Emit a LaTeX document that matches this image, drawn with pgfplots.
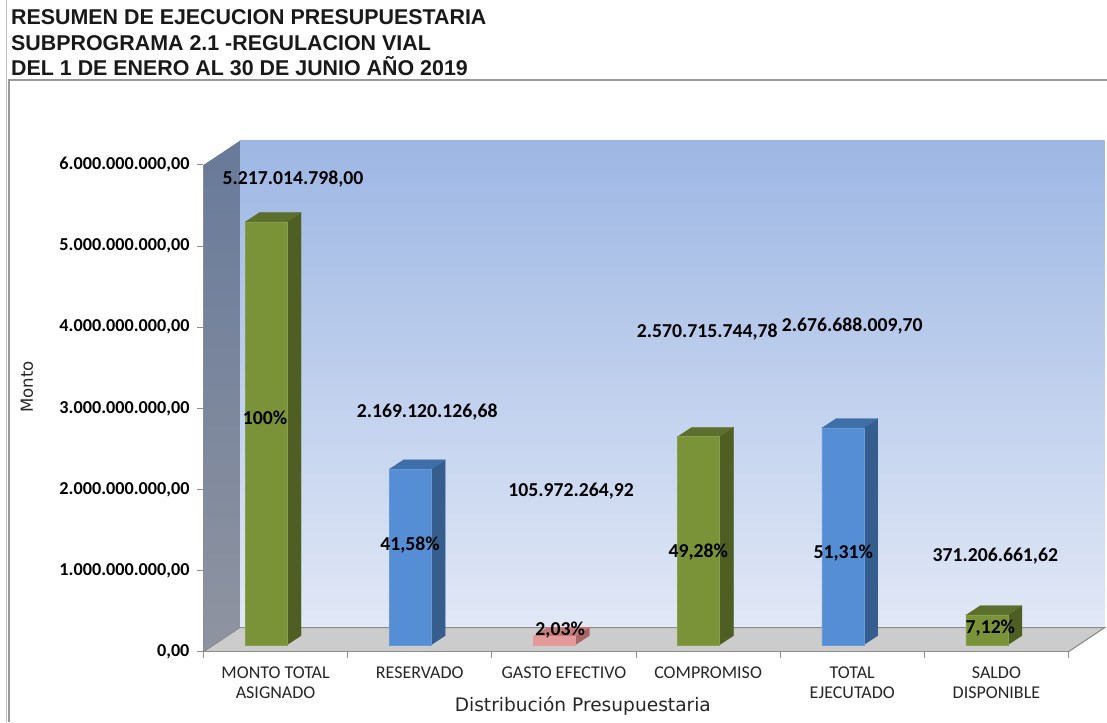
\documentclass[border=0pt]{standalone}
\usepackage{fontspec}
\setmainfont{Carlito}
\newfontfamily\titlefont{Liberation Sans}
\newfontfamily\axisfont{DejaVu Sans}
\usepackage{pgfplots}
\usepackage{pgfplotstable}
\pgfplotsset{compat=1.18}

\definecolor{wallTop}{HTML}{9DB7E4}
\definecolor{wallBot}{HTML}{E1E8F6}
\definecolor{sideTop}{HTML}{687A9A}
\definecolor{sideBot}{HTML}{8F94A0}
\definecolor{floorc}{HTML}{CCCCCC}
\definecolor{edgec}{HTML}{8C8C8C}
\definecolor{gfront}{HTML}{7A9338}
\definecolor{gside}{HTML}{4F5E23}
\definecolor{gtop}{HTML}{5D6F2D}
\definecolor{bfront}{HTML}{558ED5}
\definecolor{bside}{HTML}{355E8E}
\definecolor{btop}{HTML}{3F6FA8}
\definecolor{rfront}{HTML}{E39A99}
\definecolor{rside}{HTML}{A86565}
\definecolor{rtop}{HTML}{C47A78}

% bar values
\pgfplotstableread{
x   v
0.5 5217014798.00
3.5 2570715744.78
5.5 371206661.62
}\greenbars
\pgfplotstableread{
x   v
1.5 2169120126.68
4.5 2676688009.70
}\bluebars
\pgfplotstableread{
x   v
2.5 105972264.92
}\redbars

% data labels, positions
\pgfplotstableread{
x     y          lab
0.687 5758000000 5.217.014.798,00
1.617 2885000000 2.169.120.126,68
2.616 1911000000 105.972.264,92
3.560 3872000000 2.570.715.744,78
4.566 3946000000 2.676.688.009,70
5.558 1110000000 371.206.661,62
0.493 2824000000 100\%
1.499 1245000000 41,58\%
2.540 197000000  2,03\%
3.498 1159000000 49,28\%
4.504 1147000000 51,31\%
5.524 222000000  7,12\%
}\barlabels

% corners of the depth faces of a bar
\pgfplotstableread{
a b c
1 0 0
1 1 0
1 1 1
1 0 1
}\sideface
\pgfplotstableread{
a b c
-1 1 0
1 1 0
1 1 1
-1 1 1
}\topface

\newcommand{\depthfaces}[4]{%
  \addplot[fill=#3,draw=#3,line width=0.3pt,mark=none] table[
    x expr=#1+\thisrow{a}*0.1457+\thisrow{c}*0.097,
    y expr=\thisrow{b}*#2+\thisrow{c}*113000000] {\sideface};
  \addplot[fill=#4,draw=#4,line width=0.3pt,mark=none] table[
    x expr=#1+\thisrow{a}*0.1457+\thisrow{c}*0.097,
    y expr=\thisrow{b}*#2+\thisrow{c}*113000000] {\topface};
}

\pgfplotsset{
  chartbox/.style={
    scale only axis,
    width=865pt, height=486.7pt,
    xmin=0, xmax=6, ymin=0, ymax=6000000000,
    clip=false,
  },
}

\begin{document}
\begin{tikzpicture}
\path[use as bounding box] (-203.5pt,-70.3pt) rectangle (903.5pt,651.7pt);
\fill[white] (-203.5pt,-70.3pt) rectangle (903.5pt,651.7pt);

% frame
\draw[color=black!25,line width=0.8pt] (-197pt,-70.3pt) -- (-197pt,651.7pt);
\draw[color=black!40,line width=1.4pt] (-194.5pt,-70.3pt) -- (-194.5pt,571.7pt) -- (903.5pt,571.7pt);

\begin{axis}[
  chartbox,
  axis on top,
  axis x line*=bottom,
  axis y line*=left,
  axis line style={-,color=edgec,line width=1.1pt},
  tick style={color=edgec,line width=1pt},
  tick align=outside,
  major tick length=6.5pt,
  xtick={0,1,2,3,4,5,6},
  xticklabels={MONTO TOTAL\\ASIGNADO,RESERVADO,GASTO EFECTIVO,COMPROMISO,TOTAL\\EJECUTADO,SALDO\\DISPONIBLE},
  x tick label as interval,
  x tick label style={align=center,font=\fontsize{18}{20}\selectfont,color=black!85,anchor=north,yshift=-5pt},
  ytick={0,1000000000,2000000000,3000000000,4000000000,5000000000,6000000000},
  scaled y ticks=false,
  y tick label style={
    xshift=-4pt,
    font=\fontsize{18.2}{20}\selectfont\bfseries,
    /pgf/number format/.cd,fixed,fixed zerofill,precision=2,1000 sep={.},dec sep={,},assume math mode=true},
  xlabel={Distribución Presupuestaria},
  xlabel style={font=\axisfont\fontsize{18.6}{20}\selectfont,color=black!85,at={(axis description cs:0.4385,0)},anchor=center,yshift=-54.5pt},
  ylabel={Monto},
  ylabel style={font=\axisfont\fontsize{16.6}{20}\selectfont,color=black!85,at={(axis description cs:0,0.544)},anchor=center,yshift=176.5pt},
]
% back wall, left wall, floor
\addplot[draw=none,top color=wallTop,bottom color=wallBot,mark=none]
  coordinates {(0.25,296000000) (0.25,6296000000) (6.25,6296000000) (6.25,296000000)};
\addplot[draw=none,top color=sideTop,bottom color=sideBot,mark=none]
  coordinates {(0,0) (0,6000000000) (0.25,6296000000) (0.25,296000000)};
\addplot[draw=none,fill=floorc,mark=none]
  coordinates {(0,0) (6,0) (6.25,296000000) (0.25,296000000)};
\addplot[color=edgec,line width=1.1pt,mark=none]
  coordinates {(0,0) (0.25,296000000) (6.25,296000000) (6,0)};
\end{axis}

\begin{axis}[
  chartbox,
  at={(-9.5pt,6.7pt)},
  hide axis,
]
\depthfaces{0.5}{5217014798.00}{gside}{gtop}
\depthfaces{1.5}{2169120126.68}{bside}{btop}
\depthfaces{2.5}{105972264.92}{rside}{rtop}
\depthfaces{3.5}{2570715744.78}{gside}{gtop}
\depthfaces{4.5}{2676688009.70}{bside}{btop}
\depthfaces{5.5}{371206661.62}{gside}{gtop}

\addplot[ybar,bar width=42pt,fill=gfront,draw=gfront!90!white] table[x=x,y=v] {\greenbars};
\addplot[ybar,bar width=42pt,fill=bfront,draw=bfront!90!white] table[x=x,y=v] {\bluebars};
\addplot[ybar,bar width=42pt,fill=rfront,draw=rfront] table[x=x,y=v] {\redbars};

\addplot[draw=none,mark=none,
  point meta=explicit symbolic,
  nodes near coords,
  every node near coord/.append style={anchor=center,inner sep=0pt,text=black,yshift=-1.5pt,
    font=\fontsize{19.7}{22}\selectfont\bfseries},
] table[x=x,y=y,meta=lab] {\barlabels};
\end{axis}

% title, top left
\node[anchor=base west,inner sep=0pt,font=\titlefont\fontsize{21.4}{24}\selectfont\bfseries,text=black!90]
  at (-192.5pt,626.7pt) {RESUMEN DE EJECUCION PRESUPUESTARIA};
\node[anchor=base west,inner sep=0pt,font=\titlefont\fontsize{21.4}{24}\selectfont\bfseries,text=black!90]
  at (-192.5pt,601.4pt) {SUBPROGRAMA 2.1 -REGULACION VIAL};
\node[anchor=base west,inner sep=0pt,font=\titlefont\fontsize{21.4}{24}\selectfont\bfseries,text=black!90]
  at (-192.5pt,576.2pt) {DEL 1 DE ENERO AL 30 DE JUNIO AÑO 2019};
\end{tikzpicture}
\end{document}
